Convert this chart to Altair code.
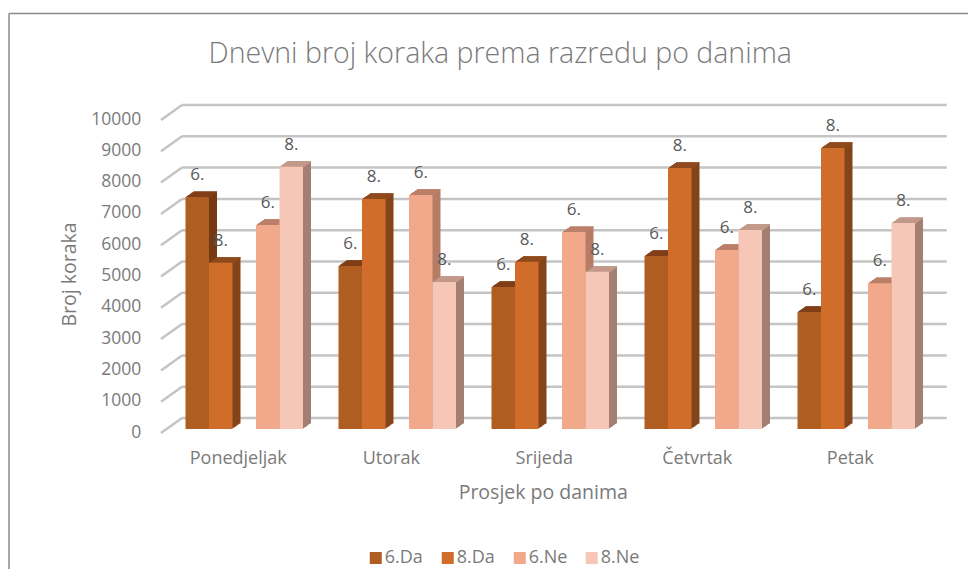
import altair as alt
import pandas as pd

days = ["Ponedjeljak", "Utorak", "Srijeda", "Četvrtak", "Petak"]
series = ["6.Da", "8.Da", "6.Ne", "8.Ne"]
v_6da = [7410, 5210, 4540, 5530, 3740]
v_8da = [5310, 7350, 5340, 8340, 8980]
v_6ne = [6520, 7480, 6290, 5720, 4660]
v_8ne = [8380, 4700, 5020, 6360, 6580]
ticks = list(range(0, 11000, 1000))

front = ["#B05D21", "#D16D2A", "#F2A88A", "#F6C7B6"]
side = ["#743A14", "#84451A", "#B77D66", "#A37F71"]
top_c = ["#823F17", "#8F4B1D", "#BC7F6A", "#C49A8B"]
slots = [0, 1, 3, 4]

BAR = 23.5 / 153
PAD = 35.5 / 2 / 153
rows = []
for s, vals, slot in zip(series, [v_6da, v_8da, v_6ne, v_8ne], slots):
    for i, (d, v) in enumerate(zip(days, vals)):
        x0 = i + PAD + slot * BAR
        rows.append(dict(day=d, series=s, v=v, base=0, topb=v - 40, x0=x0, x1=x0 + BAR, xm=x0 + BAR / 2,
                         lab=s.split(".")[0] + "."))
df = pd.DataFrame(rows)
grid_df = pd.DataFrame({"t": ticks})

xs = alt.Scale(domain=[0, 5], nice=False, zero=False)
ys = alt.Scale(domain=[0, 10000], nice=False)
GREY = "#7a7a7a"
FONT = "Open Sans"

xax = alt.Axis(values=[0.5, 1.5, 2.5, 3.5, 4.5],
               labelExpr="['Ponedjeljak','Utorak','Srijeda','Četvrtak','Petak'][floor(datum.value)]",
               labelOffset=-6.5, labelPadding=20, labelFontSize=18, labelColor=GREY, labelFont=FONT,
               ticks=False, domain=False, grid=False, title="Prosjek po danima",
               titleFontSize=19.5, titleColor=GREY, titleFont=FONT, titleFontWeight="normal",
               titleX=375, titleY=63, titleBaseline="middle")
yax = alt.Axis(values=ticks, labelOffset=3, labelPadding=27, labelFontSize=17.5, labelColor=GREY, labelFont=FONT,
               ticks=False, domain=False, grid=False, title="Broj koraka", format="d",
               titleFontSize=19.5, titleColor=GREY, titleFont=FONT, titleFontWeight="normal",
               titleX=-98, titleY=158, titleBaseline="middle", titleAngle=270)

X = lambda f: alt.X(f, scale=xs, axis=xax)
Y = lambda f: alt.Y(f, scale=ys, axis=yax)

base = alt.Chart(df)
grid = alt.Chart(grid_df).mark_rule(color="#c4c4c4", strokeWidth=2.5, yOffset=-11).encode(
    x=alt.value(14.25), x2=alt.value(779), y=Y("t:Q"))
stubs = alt.Chart(grid_df).mark_rule(color="#c4c4c4", strokeWidth=2.5, yOffset=4, y2Offset=-11).encode(
    x=alt.value(-6.75), x2=alt.value(14.25), y=Y("t:Q"), y2="t:Q")

layers = [grid, stubs]
for idx, s in enumerate(series):
    b = base.transform_filter(alt.datum.series == s)
    for k in range(8, 0, -1):
        dy = -0.7 * k
        layers.append(b.mark_rect(color=side[idx], xOffset=k, x2Offset=k, yOffset=dy, y2Offset=dy).encode(
            x=X("x0:Q"), x2="x1:Q", y=Y("v:Q"), y2="base:Q"))
    for k in range(8, 0, -1):
        dy = -0.7 * k
        layers.append(b.mark_rect(color=top_c[idx], xOffset=k, x2Offset=k, yOffset=dy, y2Offset=dy).encode(
            x=X("x0:Q"), x2="x1:Q", y=Y("v:Q"), y2="topb:Q"))
    layers.append(b.mark_rect().encode(
        x=X("x0:Q"), x2="x1:Q", y=Y("v:Q"), y2="base:Q",
        color=alt.Color("series:N", scale=alt.Scale(domain=series, range=front),
                        legend=alt.Legend(orient="none", legendX=199, legendY=433, direction="horizontal",
                                          columns=4, columnPadding=15, title=None, symbolType="square",
                                          symbolSize=144, symbolStrokeWidth=0, labelFontSize=18, labelColor=GREY,
                                          labelFont=FONT, labelOffset=0, symbolOffset=0))))

labels = base.mark_text(fontSize=17, font=FONT, color="#595959", dy=-22).encode(
    x=X("xm:Q"), y=Y("v:Q"), text="lab:N")
layers.append(labels)

border_l = alt.Chart(grid_df.head(1)).mark_rule(color="#8a8a8a", strokeWidth=1.5).encode(
    x=alt.value(-158.75), y=alt.value(-102.5), y2=alt.value(470))
border_t = alt.Chart(grid_df.head(1)).mark_rule(color="#8a8a8a", strokeWidth=1.5).encode(
    x=alt.value(-158.75), x2=alt.value(820), y=alt.value(-102.5))
layers += [border_l, border_t]

chart = alt.layer(*layers).properties(
    width=765, height=313,
    autosize="none",
    background="white",
    padding={"left": 159.75, "top": 108, "right": 35.25, "bottom": 140},
    title=alt.TitleParams("Dnevni broj koraka prema razredu po danima", anchor="middle", frame="group", dx=-50,
                          offset=-56, fontSize=28.5, font=FONT, fontWeight=300, color=GREY),
).configure_view(strokeWidth=0)

chart.save("out.html", embed_options={"renderer": "svg", "actions": False})
